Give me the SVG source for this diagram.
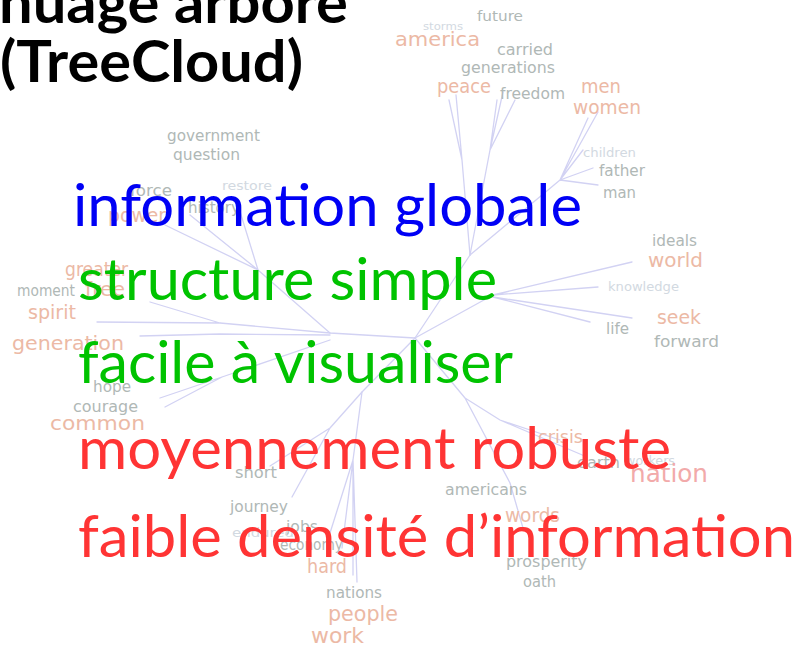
<svg xmlns="http://www.w3.org/2000/svg" width="803" height="647" viewBox="0 0 803 647">
<style>
.w{font-family:"DejaVu Sans","Liberation Sans",sans-serif;}
.g{fill:#b0b8b6;}
.s{fill:#ecb9a5;}
.l{fill:#d2d9e1;}
.n{fill:#f2aaaa;}
.e{fill:none;stroke:#d2d2f3;stroke-width:1.3;stroke-linecap:round;stroke-linejoin:round;}
.t{font-family:Lato,"Open Sans",sans-serif;font-size:58px;}
.tb{font-family:Lato,"Open Sans",sans-serif;font-size:58px;font-weight:700;fill:#000;}
</style>
<rect width="803" height="647" fill="#fff"/>
<g id="connectors" class="e">
<path d="M415,338 L470,255"/>
<path d="M470,255 L462,160 L449,100 M462,160 L456,95"/>
<path d="M470,255 L490,150 L497,100 M490,150 L503,92 M490,150 L515,100"/>
<path d="M470,255 L560,180 L588,118 M560,180 L598,112 M560,180 L583,150 M560,180 L593,168 M560,180 L598,185"/>
<path d="M415,338 L493,295 L632,262 M493,295 L598,287 M493,297 L632,318 M493,297 L590,322"/>
<path d="M415,338 L330,333 L258,270 L190,215 M258,270 L238,205 M258,270 L165,225"/>
<path d="M330,333 L220,323 L150,302 M220,323 L97,322 M330,335 L220,334 L140,336"/>
<path d="M330,340 L222,377 L160,398 M222,377 L165,407"/>
<path d="M415,338 L362,392 L330,428 L270,466 M330,428 L292,497"/>
<path d="M362,392 L353,460 L330,533 M353,460 L342,548 M353,460 L353,575 M353,460 L357,582"/>
<path d="M415,338 L465,398 L510,483 L523,528 M465,398 L500,420 L587,457 M500,420 L560,440"/>
</g>
<g id="words" class="w">
<g id="n-storms"><text class="l" x="423" y="30" font-size="11" textLength="40" lengthAdjust="spacingAndGlyphs">storms</text></g>
<g id="n-future"><text class="g" x="477" y="21" font-size="14" textLength="46" lengthAdjust="spacingAndGlyphs">future</text></g>
<g id="n-america"><text class="s" x="395" y="46" font-size="20" textLength="85" lengthAdjust="spacingAndGlyphs">america</text></g>
<g id="n-carried"><text class="g" x="497" y="55" font-size="15" textLength="56" lengthAdjust="spacingAndGlyphs">carried</text></g>
<g id="n-generations"><text class="g" x="461" y="73" font-size="15" textLength="94" lengthAdjust="spacingAndGlyphs">generations</text></g>
<g id="n-peace"><text class="s" x="437" y="93" font-size="19" textLength="54" lengthAdjust="spacingAndGlyphs">peace</text></g>
<g id="n-freedom"><text class="g" x="500" y="99" font-size="15" textLength="65" lengthAdjust="spacingAndGlyphs">freedom</text></g>
<g id="n-men"><text class="s" x="581" y="93" font-size="19" textLength="40" lengthAdjust="spacingAndGlyphs">men</text></g>
<g id="n-women"><text class="s" x="573" y="114" font-size="19" textLength="68" lengthAdjust="spacingAndGlyphs">women</text></g>
<g id="n-children"><text class="l" x="583" y="157" font-size="12" textLength="53" lengthAdjust="spacingAndGlyphs">children</text></g>
<g id="n-father"><text class="g" x="599" y="176" font-size="15" textLength="46" lengthAdjust="spacingAndGlyphs">father</text></g>
<g id="n-man"><text class="g" x="603" y="198" font-size="15" textLength="33" lengthAdjust="spacingAndGlyphs">man</text></g>
<g id="n-ideals"><text class="g" x="652" y="246" font-size="15" textLength="45" lengthAdjust="spacingAndGlyphs">ideals</text></g>
<g id="n-world"><text class="s" x="648" y="267" font-size="20" textLength="55" lengthAdjust="spacingAndGlyphs">world</text></g>
<g id="n-knowledge"><text class="l" x="608" y="291" font-size="13" textLength="71" lengthAdjust="spacingAndGlyphs">knowledge</text></g>
<g id="n-seek"><text class="s" x="657" y="324" font-size="20" textLength="44" lengthAdjust="spacingAndGlyphs">seek</text></g>
<g id="n-life"><text class="g" x="606" y="334" font-size="15" textLength="23" lengthAdjust="spacingAndGlyphs">life</text></g>
<g id="n-forward"><text class="g" x="654" y="347" font-size="16" textLength="65" lengthAdjust="spacingAndGlyphs">forward</text></g>
<g id="n-government"><text class="g" x="167" y="141" font-size="15" textLength="93" lengthAdjust="spacingAndGlyphs">government</text></g>
<g id="n-question"><text class="g" x="173" y="160" font-size="15" textLength="67" lengthAdjust="spacingAndGlyphs">question</text></g>
<g id="n-force"><text class="g" x="130" y="196" font-size="15" textLength="42" lengthAdjust="spacingAndGlyphs">force</text></g>
<g id="n-restore"><text class="l" x="222" y="190" font-size="13" textLength="50" lengthAdjust="spacingAndGlyphs">restore</text></g>
<g id="n-history"><text class="g" x="188" y="213" font-size="15" textLength="52" lengthAdjust="spacingAndGlyphs">history</text></g>
<g id="n-power"><text class="s" x="108" y="222" font-size="19" textLength="58" lengthAdjust="spacingAndGlyphs">power</text></g>
<g id="n-greater"><text class="s" x="65" y="276" font-size="19" textLength="63" lengthAdjust="spacingAndGlyphs">greater</text></g>
<g id="n-moment"><text class="g" x="17" y="296" font-size="15" textLength="58" lengthAdjust="spacingAndGlyphs">moment</text></g>
<g id="n-free"><text class="s" x="85" y="296" font-size="19" textLength="40" lengthAdjust="spacingAndGlyphs">free</text></g>
<g id="n-spirit"><text class="s" x="28" y="319" font-size="20" textLength="48" lengthAdjust="spacingAndGlyphs">spirit</text></g>
<g id="n-generation"><text class="s" x="12" y="350" font-size="20" textLength="112" lengthAdjust="spacingAndGlyphs">generation</text></g>
<g id="n-hope"><text class="g" x="93" y="392" font-size="15" textLength="38" lengthAdjust="spacingAndGlyphs">hope</text></g>
<g id="n-courage"><text class="g" x="73" y="412" font-size="15" textLength="65" lengthAdjust="spacingAndGlyphs">courage</text></g>
<g id="n-common"><text class="s" x="50" y="430" font-size="20" textLength="95" lengthAdjust="spacingAndGlyphs">common</text></g>
<g id="n-short"><text class="g" x="235" y="478" font-size="15" textLength="42" lengthAdjust="spacingAndGlyphs">short</text></g>
<g id="n-journey"><text class="g" x="230" y="512" font-size="15" textLength="58" lengthAdjust="spacingAndGlyphs">journey</text></g>
<g id="n-jobs"><text class="g" x="286" y="532" font-size="15" textLength="32" lengthAdjust="spacingAndGlyphs">jobs</text></g>
<g id="n-endured"><text class="l" x="232" y="537" font-size="13" textLength="62" lengthAdjust="spacingAndGlyphs">endured</text></g>
<g id="n-economy"><text class="g" x="280" y="550" font-size="15" textLength="63" lengthAdjust="spacingAndGlyphs">economy</text></g>
<g id="n-hard"><text class="s" x="307" y="573" font-size="19" textLength="40" lengthAdjust="spacingAndGlyphs">hard</text></g>
<g id="n-nations"><text class="g" x="326" y="598" font-size="15" textLength="56" lengthAdjust="spacingAndGlyphs">nations</text></g>
<g id="n-people"><text class="s" x="328" y="621" font-size="21" textLength="70" lengthAdjust="spacingAndGlyphs">people</text></g>
<g id="n-work"><text class="s" x="311" y="643" font-size="21" textLength="53" lengthAdjust="spacingAndGlyphs">work</text></g>
<g id="n-crisis"><text class="s" x="538" y="443" font-size="17" textLength="45" lengthAdjust="spacingAndGlyphs">crisis</text></g>
<g id="n-earth"><text class="g" x="577" y="468" font-size="15" textLength="43" lengthAdjust="spacingAndGlyphs">earth</text></g>
<g id="n-workers"><text class="l" x="625" y="465" font-size="13" textLength="50" lengthAdjust="spacingAndGlyphs">workers</text></g>
<g id="n-nation"><text class="n" x="630" y="482" font-size="25" textLength="78" lengthAdjust="spacingAndGlyphs">nation</text></g>
<g id="n-americans"><text class="g" x="445" y="495" font-size="15" textLength="82" lengthAdjust="spacingAndGlyphs">americans</text></g>
<g id="n-words"><text class="s" x="505" y="522" font-size="19" textLength="55" lengthAdjust="spacingAndGlyphs">words</text></g>
<g id="n-prosperity"><text class="g" x="506" y="567" font-size="15" textLength="81" lengthAdjust="spacingAndGlyphs">prosperity</text></g>
<g id="n-oath"><text class="g" x="523" y="587" font-size="15" textLength="33" lengthAdjust="spacingAndGlyphs">oath</text></g>
</g>
<g id="title">
<text class="tb" x="-1" y="23" textLength="349" lengthAdjust="spacingAndGlyphs">nuage arboré</text>
<text class="tb" x="0" y="82" textLength="303" lengthAdjust="spacingAndGlyphs">(TreeCloud)</text>
</g>
<g id="overlay">
<text class="t" x="73" y="226" fill="#0000f5" textLength="509" lengthAdjust="spacingAndGlyphs">information globale</text>
<text class="t" x="78" y="300" fill="#00c300" textLength="419" lengthAdjust="spacingAndGlyphs">structure simple</text>
<text class="t" x="78" y="383" fill="#00c300" textLength="435" lengthAdjust="spacingAndGlyphs">facile à visualiser</text>
<text class="t" x="78" y="469" fill="#ff3434" textLength="593" lengthAdjust="spacingAndGlyphs">moyennement robuste</text>
<text class="t" x="78" y="557" fill="#ff3434" textLength="717" lengthAdjust="spacingAndGlyphs">faible densité d’information</text>
</g>
</svg>
